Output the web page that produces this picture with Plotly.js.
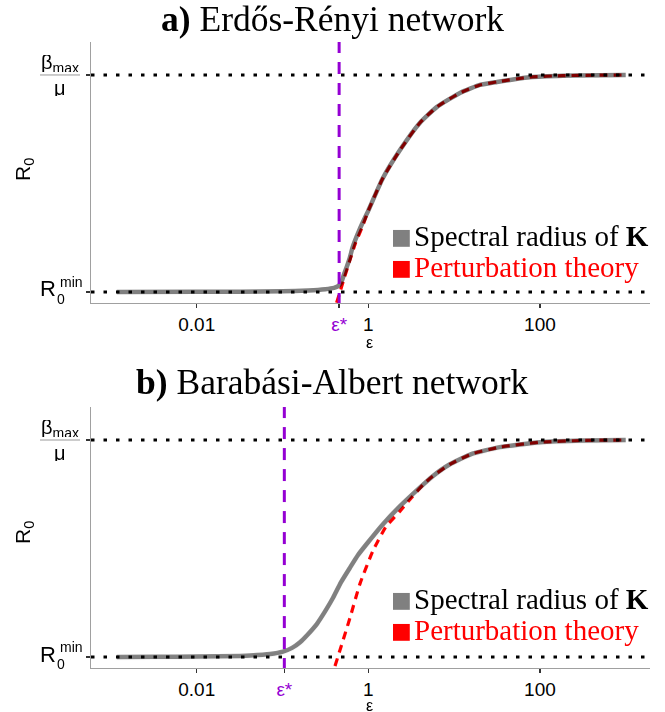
<!DOCTYPE html>
<html><head><meta charset="utf-8">
<script src="https://cdn.plot.ly/plotly-3.0.1.min.js"></script>
<style>html,body{margin:0;padding:0;background:#fff}</style>
</head><body><div id="chart" style="width:665px;height:712px"></div>
<script>
// ---- data ----
const tickVals = [0.01, 1, 100];
const tickText = ['0.01', '1', '100'];
const rMin = 0, rMax = 1;           // R0^min and beta_max/mu (normalised)
const vSpan = [-0.06, 1.16];        // vertical extent of the epsilon* marker

// a) Erdos-Renyi
const erEpsStar = 0.457;
const erSpecEps = [0.00117, 0.01, 0.0316, 0.1, 0.2, 0.316, 0.398, 0.437, 0.468, 0.49, 0.52, 0.56, 0.603, 0.661, 0.794, 1.0, 1.48, 2.34, 3.98, 6.31, 11.7, 20, 31.6, 75.9, 186, 1000];
const erSpecR0  = [0, 0.0005, 0.001, 0.003, 0.007, 0.013, 0.019, 0.025, 0.035, 0.05, 0.08, 0.115, 0.152, 0.21, 0.29, 0.375, 0.525, 0.654, 0.779, 0.853, 0.917, 0.954, 0.968, 0.99, 0.997, 1.0];
const erPertEps = [0.427, 0.468, 0.525, 0.603, 0.708, 0.851, 1.0, 1.48, 2.34, 3.98, 6.31, 11.7, 20, 31.6, 75.9, 186, 1000];
const erPertR0  = [-0.05, 0.0, 0.065, 0.14, 0.225, 0.30, 0.375, 0.525, 0.654, 0.779, 0.853, 0.917, 0.954, 0.968, 0.99, 0.997, 1.0];

// b) Barabasi-Albert
const baEpsStar = 0.105;
const baSpecEps = [0.00117, 0.00316, 0.01, 0.0316, 0.0418, 0.0715, 0.101, 0.129, 0.16, 0.198, 0.252, 0.313, 0.388, 0.481, 0.612, 0.758, 0.966, 1.48, 2.34, 3.72, 5.62, 8.91, 15.8, 33.9, 100, 316, 1000];
const baSpecR0  = [0, 0.001, 0.002, 0.005, 0.007, 0.014, 0.025, 0.042, 0.068, 0.105, 0.153, 0.21, 0.273, 0.345, 0.412, 0.47, 0.523, 0.612, 0.695, 0.77, 0.833, 0.888, 0.935, 0.967, 0.99, 0.998, 1.0];
const baPertEps = [0.409, 0.612, 0.8, 1.135, 1.6, 2.34, 3.2, 4.5, 5.62, 8.91, 15.8, 33.9, 100, 316, 1000];
const baPertR0  = [-0.042, 0.181, 0.338, 0.49, 0.6, 0.672, 0.735, 0.8, 0.833, 0.888, 0.935, 0.967, 0.99, 0.998, 1.0];

// ---- styles ----
const GREY = '#808080', RED = '#ff0000', PURPLE = '#9400d3';
const SANS = 'Liberation Sans, Arial, sans-serif';
const SERIF = 'Liberation Serif, Times New Roman, serif';

function panelTraces(xa, ya, sEps, sR0, pEps, pR0, eStar) {
  return [
    {x: sEps, y: sR0, xaxis: xa, yaxis: ya, mode: 'lines', showlegend: false, hoverinfo: 'skip',
     line: {color: GREY, width: 4.5, shape: 'spline', smoothing: 0.5}},
    {x: pEps, y: pR0, xaxis: xa, yaxis: ya, mode: 'lines', showlegend: false, hoverinfo: 'skip',
     line: {color: RED, width: 3.2, dash: '8px,6px', shape: 'spline', smoothing: 0.5}},
    {x: [eStar, eStar], y: vSpan, xaxis: xa, yaxis: ya, mode: 'lines', showlegend: false, hoverinfo: 'skip',
     line: {color: PURPLE, width: 3, dash: '12px,9px'}}
  ];
}

const data = [].concat(
  panelTraces('x', 'y', erSpecEps, erSpecR0, erPertEps, erPertR0, erEpsStar),
  panelTraces('x2', 'y2', baSpecEps, baSpecR0, baPertEps, baPertR0, baEpsStar)
);

function xAxis(anchor, eStar) {
  return {
    type: 'log', range: [-3.232, 3.283], anchor: anchor,
    showline: true, linecolor: '#a0a0a0', linewidth: 1,
    ticks: 'outside', ticklen: 4, tickwidth: 1.5, tickcolor: '#333',
    tickvals: [tickVals[0], eStar, tickVals[1], tickVals[2]],
    ticktext: [tickText[0], '<span style="color:' + PURPLE + '">ε*</span>', tickText[1], tickText[2]],
    tickfont: {family: SANS, size: 19, color: '#000'},
    showgrid: false, zeroline: false
  };
}
function yAxis(anchor, domain) {
  return {
    domain: domain, anchor: anchor, range: [-0.0507, 1.152],
    showline: true, linecolor: '#a0a0a0', linewidth: 1,
    ticks: 'outside', ticklen: 4, tickwidth: 1.5, tickcolor: '#333',
    tickvals: [rMin, rMax], showticklabels: false,
    showgrid: false, zeroline: false
  };
}

const pY = py => (668 - py) / 626;     // paper y from pixel row
const pX = px => (px - 91) / 559;      // paper x from pixel column

function panelAnnotations(yref, off, title) {
  const a = [];
  a.push({text: title, xref: 'paper', yref: 'paper', x: pX(332), y: pY(19 + off),
          xanchor: 'center', yanchor: 'middle', showarrow: false,
          font: {family: SERIF, size: 35.5, color: '#000'}});
  // y tick labels
  a.push({text: 'β<sub>max</sub>', xref: 'paper', yref: yref, x: pX(60), y: rMax, xanchor: 'center',
          yanchor: 'bottom', yshift: 1, height: 17, valign: 'middle', showarrow: false,
          font: {family: SANS, size: 20, color: '#000'}});
  a.push({text: 'μ', xref: 'paper', yref: yref, x: pX(60), y: rMax, xanchor: 'center',
          yanchor: 'top', yshift: -3, height: 16, valign: 'middle', showarrow: false,
          font: {family: SANS, size: 20, color: '#000'}});
  a.push({text: 'R', xref: 'paper', yref: yref, x: pX(57.5), y: rMin, xanchor: 'right',
          yanchor: 'middle', yshift: 3, showarrow: false, font: {family: SANS, size: 22, color: '#000'}});
  a.push({text: 'min', xref: 'paper', yref: yref, x: pX(58), y: rMin, xanchor: 'left',
          yanchor: 'middle', yshift: 10, showarrow: false, font: {family: SANS, size: 14, color: '#000'}});
  a.push({text: '0', xref: 'paper', yref: yref, x: pX(55), y: rMin, xanchor: 'left',
          yanchor: 'middle', yshift: -7, showarrow: false, font: {family: SANS, size: 14, color: '#000'}});
  // axis titles
  a.push({text: 'R<sub>0</sub>', xref: 'paper', yref: 'paper', x: pX(24), y: pY(170 + off),
          xanchor: 'center', yanchor: 'middle', textangle: -90, showarrow: false,
          font: {family: SANS, size: 21, color: '#000'}});
  a.push({text: 'ε', xref: 'paper', yref: 'paper', x: pX(369), y: pY(Math.min(342 + off, 705)), height: 12,
          xanchor: 'center', yanchor: 'middle', showarrow: false,
          font: {family: SANS, size: 16, color: '#000'}});
  // legend
  a.push({text: '■', xref: 'paper', yref: 'paper', x: pX(401), y: pY(236 + off), xanchor: 'center', yanchor: 'middle',
          showarrow: false, font: {family: 'DejaVu Sans', size: 22, color: GREY}});
  a.push({text: 'Spectral radius of <b>K</b>', xref: 'paper', yref: 'paper', x: pX(412), y: pY(236 + off),
          xanchor: 'left', yanchor: 'middle', showarrow: false, font: {family: SERIF, size: 29, color: '#000'}});
  a.push({text: '■', xref: 'paper', yref: 'paper', x: pX(401), y: pY(267 + off), xanchor: 'center', yanchor: 'middle',
          showarrow: false, font: {family: 'DejaVu Sans', size: 22, color: RED}});
  a.push({text: 'Perturbation theory', xref: 'paper', yref: 'paper', x: pX(412), y: pY(267 + off),
          xanchor: 'left', yanchor: 'middle', showarrow: false, font: {family: SERIF, size: 29, color: RED}});
  return a;
}

function panelShapes(yref) {
  const dotted = {color: '#000', width: 3, dash: '3.5px,9px'};
  const xd = (yref === 'y' ? 'x' : 'x2') + ' domain';
  return [
    {type: 'line', xref: xd, yref: yref, x0: 0, x1: 1, y0: rMin, y1: rMin, line: dotted, layer: 'above'},
    {type: 'line', xref: xd, yref: yref, x0: 0, x1: 1, y0: rMax, y1: rMax, line: dotted, layer: 'above'},
    {type: 'line', xref: 'paper', yref: yref, x0: pX(40), x1: pX(80), y0: rMax, y1: rMax, line: {color: '#999', width: 1}}
  ];
}

const layout = {
  width: 665, height: 712,
  margin: {l: 91, r: 15, t: 42, b: 44},
  paper_bgcolor: '#fff', plot_bgcolor: '#fff',
  showlegend: false,
  xaxis: xAxis('y', erEpsStar),
  yaxis: yAxis('x', [0.5831, 1]),
  xaxis2: xAxis('y2', baEpsStar),
  yaxis2: yAxis('x2', [0, 0.4169]),
  annotations: [].concat(
    panelAnnotations('y', 0, '<b>a)</b> Erdős-Rényi network'),
    panelAnnotations('y2', 363, '<b>b)</b> Barabási-Albert network')
  ),
  shapes: [].concat(panelShapes('y'), panelShapes('y2'))
};

Plotly.newPlot('chart', data, layout, {staticPlot: true}).then(function () {
  document.querySelectorAll('.scatterlayer path.js-line').forEach(function (p) {
    const s = (p.style.stroke || p.getAttribute('stroke') || '').replace(/\s/g, '');
    if (s === 'rgb(255,0,0)' || s === '#ff0000') p.style.mixBlendMode = 'multiply';
  });
});
</script>
</body></html>
